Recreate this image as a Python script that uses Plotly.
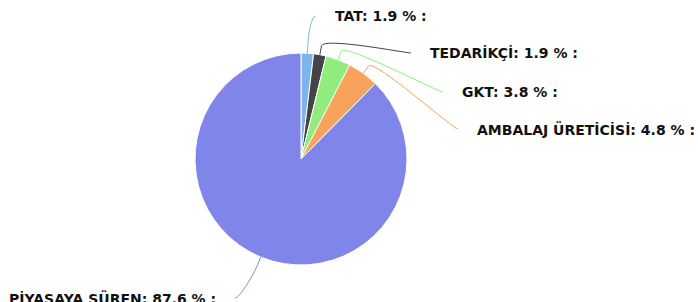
import math
import plotly.graph_objects as go

# ---- data ----
categories = ["TAT", "TEDARİKÇİ", "GKT", "AMBALAJ ÜRETİCİSİ", "PİYASAYA SÜREN"]
values = [1.9, 1.9, 3.8, 4.8, 87.6]
colors = ["#7cb5ec", "#434348", "#90ed7d", "#f7a35c", "#8085e9"]

# ---- layout constants (pixel space) ----
W, H = 698, 302
CX, CY, R = 301, 159, 106
# label anchor (text edge x, centre y) and side
label_pos = [(333, 16, "left"), (428, 53, "left"), (460, 92, "left"),
             (475, 129, "left"), (218, 298, "right")]
GAP = 17
BREAK_OFF = 9
FONT = dict(family="DejaVu Sans", size=14, color="#111111")

fig = go.Figure()
fig.add_trace(go.Pie(
    labels=categories, values=values, sort=False, direction="clockwise",
    rotation=0, textinfo="none", hoverinfo="label+percent",
    marker=dict(colors=colors, line=dict(color="white", width=1)),
    domain=dict(x=[(CX - R) / W, (CX + R) / W],
                y=[(H - CY - R) / H, (H - CY + R) / H]),
    showlegend=False,
))

total = sum(values)
cum = 0.0
shapes = []
annotations = []
for name, v, c, (lx, ly, side) in zip(categories, values, colors, label_pos):
    mid = (cum + v / 2) / total * 2 * math.pi
    cum += v
    sx, sy = math.sin(mid), -math.cos(mid)
    tx, ty = CX + R * sx, CY + R * sy
    bx, by = CX + (R + BREAK_OFF) * sx, CY + (R + BREAK_OFF) * sy
    if side == "left":
        ex = lx - GAP
        c1x = ex - 5
    else:
        ex = lx + GAP
        c1x = ex + 5
    ey = ly
    path = (f"M {ex},{ey} C {c1x},{ey} {2*bx - tx},{2*by - ty} {bx},{by} "
            f"L {tx},{ty}")
    shapes.append(dict(type="path", path=path, xref="x", yref="y",
                       line=dict(color=c, width=1)))
    annotations.append(dict(
        x=lx, y=ly, xref="x", yref="y", showarrow=False,
        text=f"<b>{name}: {v} % :</b>", font=FONT,
        xanchor="left" if side == "left" else "right", yanchor="middle"))

fig.update_layout(
    width=W, height=H, margin=dict(l=0, r=0, t=0, b=0),
    paper_bgcolor="white", plot_bgcolor="rgba(0,0,0,0)",
    xaxis=dict(range=[0, W], visible=False, fixedrange=True),
    yaxis=dict(range=[H, 0], visible=False, fixedrange=True),
    shapes=shapes, annotations=annotations, showlegend=False,
)
fig.write_html("out.html", config={"displayModeBar": False},
               post_script="document.body.style.margin='0';"
                           "document.body.style.overflow='hidden';")
